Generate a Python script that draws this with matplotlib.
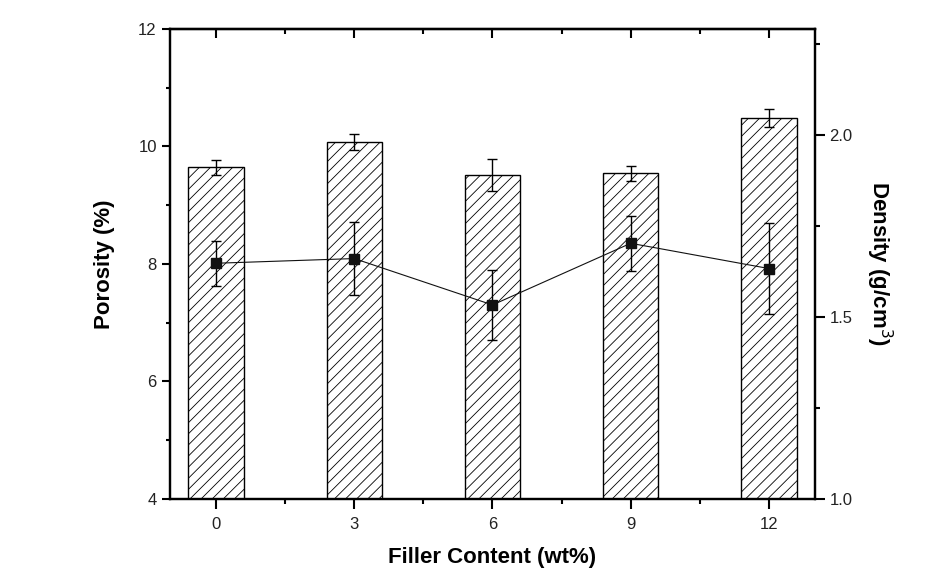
import matplotlib
matplotlib.use("Agg")
import matplotlib.pyplot as plt
from matplotlib.ticker import MultipleLocator

plt.rcParams["font.family"] = ["Liberation Sans", "DejaVu Sans"]
plt.rcParams["hatch.linewidth"] = 0.6

# Data
filler = [0, 3, 6, 9, 12]
density = [1.912, 1.981, 1.891, 1.895, 2.047]
density_err = [0.021, 0.022, 0.044, 0.021, 0.025]
porosity = [8.01, 8.09, 7.30, 8.35, 7.92]
porosity_err = [0.38, 0.62, 0.59, 0.47, 0.775]

fig = plt.figure(figsize=(9.47, 5.8), dpi=100)
ax = fig.add_axes([0.1795, 0.1402, 0.6811, 0.8098])
ax2 = ax.twinx()

# Bars (density) on the right axis
ax2.bar(filler, density, width=1.2, bottom=0, color="white", edgecolor="black",
        linewidth=1.0, hatch="///", zorder=2)
ax2.errorbar(filler, density, yerr=density_err, fmt="none", ecolor="black",
             elinewidth=1.0, capsize=3.5, capthick=1.0, zorder=3)

# Line (porosity) on the left axis, drawn above the bars
ax.set_zorder(ax2.get_zorder() + 1)
ax.patch.set_visible(False)
ax.errorbar(filler, porosity, yerr=porosity_err, fmt="s-", color="#111111",
            markersize=6.5, linewidth=0.8, ecolor="black", elinewidth=1.0,
            capsize=3.5, capthick=1.0, zorder=4)

ax.set_xlim(-1, 13)
ax.set_ylim(4, 12)
ax2.set_ylim(1.0, 2.2925)

ax.xaxis.set_major_locator(MultipleLocator(3))
ax.xaxis.set_minor_locator(MultipleLocator(1.5))
ax.yaxis.set_major_locator(MultipleLocator(2))
ax.yaxis.set_minor_locator(MultipleLocator(1))
ax2.yaxis.set_major_locator(MultipleLocator(0.5))
ax2.yaxis.set_minor_locator(MultipleLocator(0.25))
ax2.yaxis.set_major_formatter(plt.FormatStrFormatter("%.1f"))

# Spines and ticks
for a in (ax, ax2):
    for s in a.spines.values():
        s.set_linewidth(1.6)

ax.tick_params(axis="x", which="major", direction="out", length=7, width=1.5,
               top=False, labelsize=12, labelcolor="#222222", pad=6)
ax.tick_params(axis="x", which="minor", direction="out", length=3.5, width=1.5, top=False)
ax.tick_params(axis="y", which="major", direction="out", length=6, width=1.5,
               right=False, labelsize=12, labelcolor="#222222")
ax.tick_params(axis="y", which="minor", direction="out", length=3, width=1.5, right=False)
ax2.tick_params(axis="y", which="major", direction="out", length=7, width=1.5,
                labelsize=12, labelcolor="#222222")
ax2.tick_params(axis="y", which="minor", direction="out", length=3.5, width=1.5)

# Inward ticks on the top spine
top = ax.secondary_xaxis("top")
top.xaxis.set_major_locator(MultipleLocator(3))
top.xaxis.set_minor_locator(MultipleLocator(1.5))
top.tick_params(axis="x", which="major", direction="in", length=6.5, width=1.5,
                labeltop=False)
top.tick_params(axis="x", which="minor", direction="in", length=3.5, width=1.5)
top.spines["top"].set_linewidth(1.6)

ax.set_xlabel("Filler Content (wt%)", fontsize=16, fontweight="bold", labelpad=11)
ax.set_ylabel("Porosity (%)", fontsize=16, fontweight="bold", labelpad=17)
ax2.set_ylabel("Density (g/cm$^3$)", fontsize=16, fontweight="bold",
               rotation=-90, labelpad=30)

fig.savefig("out.png", dpi=100)
